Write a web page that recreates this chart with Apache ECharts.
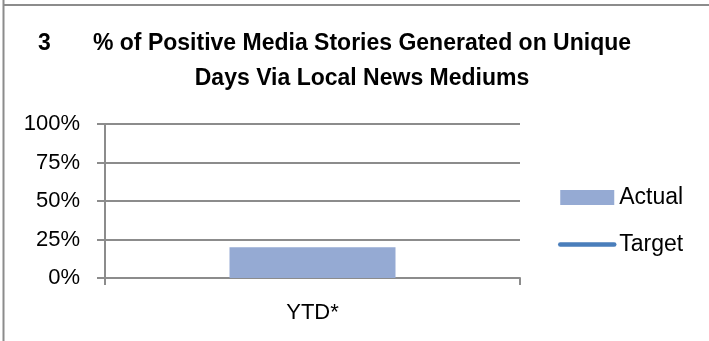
<!DOCTYPE html>
<html>
<head>
<meta charset="utf-8">
<script src="https://cdn.jsdelivr.net/npm/echarts@6/dist/echarts.min.js"></script>
<style>
html,body{margin:0;padding:0;background:#fff;}
#chart{width:709px;height:341px;}
</style>
</head>
<body>
<div id="chart"></div>
<script>
var categories = ['YTD*'];
var actualValues = [20];
var targetValues = [null];
var yTicks = [0, 25, 50, 75, 100];
var chartNumber = '3';
var titleText = '% of Positive Media Stories Generated on Unique\nDays Via Local News Mediums';

var chart = echarts.init(document.getElementById('chart'));
var font = '"Liberation Sans", Arial, sans-serif';
chart.setOption({
  animation: false,
  backgroundColor: '#fff',
  textStyle: { fontFamily: font },
  graphic: [
    { type: 'line', shape: { x1: 3.5, y1: 0, x2: 3.5, y2: 341 }, style: { stroke: '#8c8c8c', lineWidth: 2 } },
    { type: 'line', shape: { x1: 3, y1: 5, x2: 709, y2: 5 }, style: { stroke: '#8c8c8c', lineWidth: 2 } }
  ],
  title: [
    { text: chartNumber, left: 33, top: 21, textStyle: { fontFamily: font, fontSize: 23, fontWeight: 'bold', color: '#000', lineHeight: 35 } },
    { text: titleText, left: 357, textAlign: 'center', top: 21, textStyle: { fontFamily: font, fontSize: 23, fontWeight: 'bold', color: '#000', lineHeight: 35 } }
  ],
  legend: {
    orient: 'vertical',
    left: 553,
    top: 181,
    itemWidth: 54,
    itemHeight: 15,
    itemGap: 24,
    textStyle: { fontFamily: font, fontSize: 23, color: '#000' },
    data: [
      { name: 'Actual', icon: 'rect' },
      { name: 'Target', itemStyle: { opacity: 0, borderWidth: 0 }, lineStyle: { color: '#4a7ebb', width: 4.5, cap: 'round' } }
    ]
  },
  grid: { left: 105, right: 189, top: 124, bottom: 63, containLabel: false },
  xAxis: {
    type: 'category',
    data: categories,
    boundaryGap: true,
    axisLine: { lineStyle: { color: '#8c8c8c', width: 2 } },
    axisTick: { show: true, length: 7, lineStyle: { color: '#8c8c8c', width: 2 } },
    axisLabel: { fontFamily: font, fontSize: 22, color: '#000', margin: 24 }
  },
  yAxis: {
    type: 'value',
    min: yTicks[0],
    max: yTicks[yTicks.length - 1],
    interval: yTicks[1] - yTicks[0],
    axisLine: { show: true, lineStyle: { color: '#8c8c8c', width: 2 } },
    axisTick: { show: true, length: 8, lineStyle: { color: '#8c8c8c', width: 2 } },
    splitLine: { show: true, lineStyle: { color: '#8c8c8c', width: 2 } },
    axisLabel: { fontFamily: font, fontSize: 22, color: '#000', margin: 25, formatter: '{value}%' }
  },
  series: [
    { name: 'Actual', type: 'bar', data: actualValues, barWidth: '40%', itemStyle: { color: '#95aad3' } },
    { name: 'Target', type: 'line', data: targetValues, showSymbol: false, symbol: 'none', itemStyle: { color: '#4a7ebb' }, lineStyle: { color: '#4a7ebb', width: 4.5, cap: 'round' } }
  ]
});
</script>
</body>
</html>
